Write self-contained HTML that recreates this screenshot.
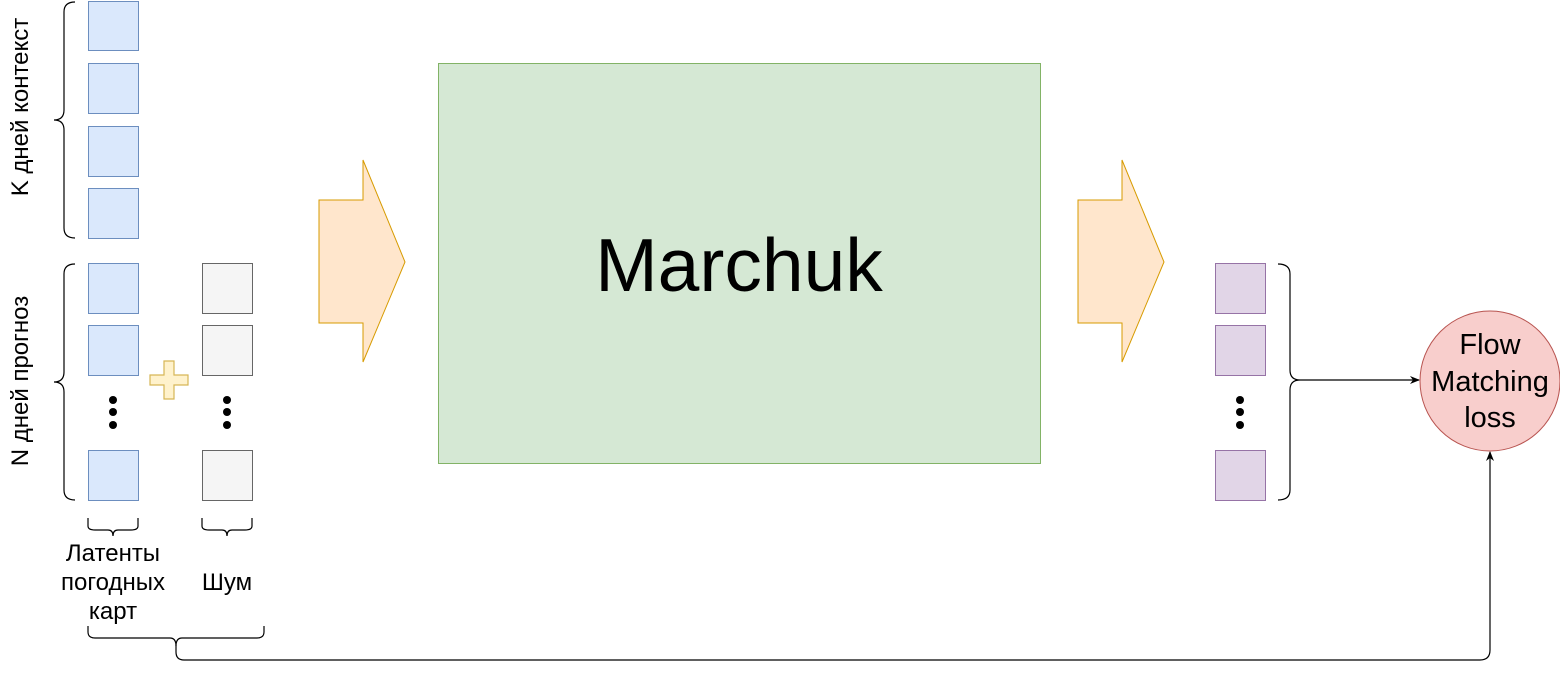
<!DOCTYPE html>
<html><head><meta charset="utf-8"><style>body{margin:0;background:#fff}svg{display:block}text{font-family:"Liberation Sans",Helvetica,Arial,sans-serif}</style></head>
<body>
<svg width="1560" height="674" viewBox="0 0 1560 674" xmlns="http://www.w3.org/2000/svg">
<defs><marker id="ah" markerWidth="10" markerHeight="10" refX="9" refY="5" orient="auto" markerUnits="userSpaceOnUse"><path d="M0,1 L10,5 L0,9 L3,5 Z" fill="#000"/></marker></defs>
<g fill="#dae8fc" stroke="#6c8ebf" stroke-width="1">
<rect x="88.5" y="1.5" width="50" height="49"/><rect x="88.5" y="63.5" width="50" height="50"/><rect x="88.5" y="126.5" width="50" height="50"/><rect x="88.5" y="188.5" width="50" height="50"/>
<rect x="88.5" y="263.5" width="50" height="50"/><rect x="88.5" y="325.5" width="50" height="50"/><rect x="88.5" y="450.5" width="50" height="50"/>
</g>
<g fill="#f5f5f5" stroke="#666" stroke-width="1">
<rect x="202.5" y="263.5" width="50" height="50"/><rect x="202.5" y="325.5" width="50" height="50"/><rect x="202.5" y="450.5" width="50" height="50"/>
</g>
<g fill="#e1d5e7" stroke="#9673a6" stroke-width="1">
<rect x="1215.5" y="263.5" width="50" height="50"/><rect x="1215.5" y="325.5" width="50" height="50"/><rect x="1215.5" y="450.5" width="50" height="50"/>
</g>
<g fill="#000">
<circle cx="113" cy="400" r="4"/><circle cx="113" cy="412" r="4"/><circle cx="113" cy="425" r="4"/>
<circle cx="227" cy="400" r="4"/><circle cx="227" cy="412" r="4"/><circle cx="227" cy="425" r="4"/>
<circle cx="1240" cy="400" r="4"/><circle cx="1240" cy="412" r="4"/><circle cx="1240" cy="425" r="4"/>
</g>
<path d="M164,361 h10 v14 h14 v10 h-14 v14 h-10 v-14 h-14 v-10 h14 z" fill="#fff2cc" stroke="#d6b656" stroke-width="1.2"/>
<g fill="none" stroke="#000" stroke-width="1.2">
<path d="M75,2 Q64,2 64,12 V110 Q64,120 54,120 Q64,120 64,130 V228 Q64,238 75,238"/>
<path d="M75,264 Q64,264 64,274 V372 Q64,382 54,382 Q64,382 64,392 V490 Q64,500 75,500"/>
<path d="M1278,264 Q1290,264 1290,274 V370 Q1290,380 1300,380 Q1290,380 1290,390 V490 Q1290,500 1278,500"/>
<path d="M88,518 V526 Q88,530 95,530 H108 Q113,530 113,536 Q113,530 118,530 H131 Q138,530 138,526 V518"/>
<path d="M202,518 V526 Q202,530 209,530 H222 Q227,530 227,536 Q227,530 232,530 H245 Q252,530 252,526 V518"/>
<path d="M88,626 V632 Q88,638 95,638 H170 Q176,638 176,646 V652 Q176,660 184,660 H1480 Q1490,660 1490,650 V452" marker-end="url(#ah)"/>
<path d="M264,626 V632 Q264,638 257,638 H182 Q176,638 176,646"/>
<path d="M1300,380 H1419" marker-end="url(#ah)"/>
</g>
<path d="M319,200 H363 V160 L405,262 L363,362 V323 H319 Z" fill="#ffe6cc" stroke="#d79b00" stroke-width="1"/>
<path d="M1078,200 H1122 V160 L1164,262 L1122,362 V323 H1078 Z" fill="#ffe6cc" stroke="#d79b00" stroke-width="1"/>
<rect x="438.5" y="63.5" width="602" height="400" fill="#d5e8d4" stroke="#82b366" stroke-width="1"/>
<text x="739" y="291" font-size="75" text-anchor="middle">Marchuk</text>
<circle cx="1490" cy="381" r="70" fill="#f8cecc" stroke="#b85450" stroke-width="1"/>
<g font-size="29" text-anchor="middle">
<text x="1490" y="354">Flow</text><text x="1490" y="391">Matching</text><text x="1490" y="427">loss</text>
</g>
<g font-size="24" text-anchor="middle">
<text x="113" y="561">Латенты</text><text x="113" y="590">погодных</text><text x="113" y="619">карт</text>
<text x="227" y="590">Шум</text>
<text transform="translate(28,107) rotate(-90)">K дней контекст</text>
<text transform="translate(28,381) rotate(-90)">N дней прогноз</text>
</g>
</svg>
</body></html>
